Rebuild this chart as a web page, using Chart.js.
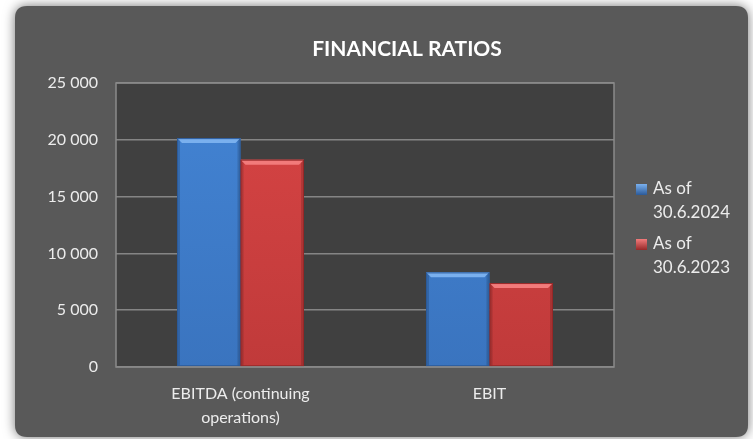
<!DOCTYPE html>
<html>
<head>
<meta charset="utf-8">
<script src="https://cdn.jsdelivr.net/npm/chart.js@4.4.1/dist/chart.umd.min.js"></script>
<style>
    html, body { margin: 0; padding: 0; background: #ffffff; }
    #wrap { width: 753px; height: 439px; }
</style>
</head>
<body>
<div id="wrap"><canvas id="ratiosChart" width="753" height="439"></canvas></div>
<script>
const categories = [['EBITDA (continuing', 'operations)'], 'EBIT'];
const seriesLabels = [['As of', '30.6.2024'], ['As of', '30.6.2023']];
const values2024 = [20150, 8330];
const values2023 = [18250, 7390];
const yTicks = [0, 5000, 10000, 15000, 20000, 25000];
const chartTitle = 'FINANCIAL RATIOS';

const FONT = "Lato, 'Open Sans', sans-serif";
const TEXT = '#ececec';

// bar colours: body, highlight, shadow edge
const palette = [
    { body: '#4384d4', top: '#7ab0ee', edge: '#2b5a99', bottom: '#3a74bf' },
    { body: '#d84545', top: '#f27b7b', edge: '#962828', bottom: '#c03a3a' }
];

function fmt(v) {
    return v.toLocaleString('en-US').replace(/,/g, ' ');
}

function roundRect(ctx, x, y, w, h, r) {
    ctx.beginPath();
    ctx.moveTo(x + r, y);
    ctx.lineTo(x + w - r, y);
    ctx.quadraticCurveTo(x + w, y, x + w, y + r);
    ctx.lineTo(x + w, y + h - r);
    ctx.quadraticCurveTo(x + w, y + h, x + w - r, y + h);
    ctx.lineTo(x + r, y + h);
    ctx.quadraticCurveTo(x, y + h, x, y + h - r);
    ctx.lineTo(x, y + r);
    ctx.quadraticCurveTo(x, y, x + r, y);
    ctx.closePath();
}

// panel, plot background, title and legend
const decor = {
    id: 'decor',
    beforeDraw(chart) {
        const ctx = chart.ctx;
        const a = chart.chartArea;
        ctx.save();
        ctx.fillStyle = '#ffffff';
        ctx.fillRect(0, 0, chart.width, chart.height);
        ctx.shadowColor = 'rgba(0,0,0,0.55)';
        ctx.shadowBlur = 12;
        ctx.fillStyle = '#595959';
        roundRect(ctx, 15, 6, 733, 431, 12);
        ctx.fill();
        ctx.shadowColor = 'transparent';
        ctx.fillStyle = '#404040';
        ctx.fillRect(a.left, a.top, a.right - a.left, a.bottom - a.top);
        ctx.restore();
    },
    afterDraw(chart) {
        const ctx = chart.ctx;
        const a = chart.chartArea;
        ctx.save();
        ctx.strokeStyle = '#8a8a8a';
        ctx.lineWidth = 1.5;
        ctx.strokeRect(a.left, a.top, a.right - a.left, a.bottom - a.top);

        ctx.fillStyle = '#ffffff';
        ctx.font = 'bold 21px ' + FONT;
        ctx.textAlign = 'center';
        ctx.textBaseline = 'middle';
        ctx.fillText(chartTitle, 407, 49);

        // legend
        ctx.font = '17px ' + FONT;
        ctx.textAlign = 'left';
        chart.data.datasets.forEach((ds, i) => {
            const y0 = 189 + i * 55;
            const p = palette[i];
            const g = ctx.createLinearGradient(0, y0 - 5, 0, y0 + 6);
            g.addColorStop(0, p.top);
            g.addColorStop(1, p.edge);
            ctx.fillStyle = g;
            ctx.fillRect(636, y0 - 5, 11, 11);
            ctx.fillStyle = TEXT;
            ds.label.forEach((line, j) => {
                ctx.fillText(line, 653, y0 + j * 24);
            });
        });
        ctx.restore();
    },
    afterDatasetsDraw(chart) {
        // bevel highlights on the bars
        const ctx = chart.ctx;
        ctx.save();
        chart.data.datasets.forEach((ds, i) => {
            const p = palette[i];
            chart.getDatasetMeta(i).data.forEach(bar => {
                const l = bar.x - bar.width / 2;
                const r = bar.x + bar.width / 2;
                const t = bar.y;
                const b = bar.base;
                const d = 5;
                ctx.fillStyle = p.top;
                ctx.beginPath();
                ctx.moveTo(l, t); ctx.lineTo(r, t);
                ctx.lineTo(r - d, t + d); ctx.lineTo(l + d, t + d);
                ctx.closePath(); ctx.fill();
                ctx.fillStyle = 'rgba(0,0,0,0.15)';
                ctx.beginPath();
                ctx.moveTo(r, t); ctx.lineTo(r, b);
                ctx.lineTo(r - 3, b); ctx.lineTo(r - 3, t + 3);
                ctx.closePath(); ctx.fill();
                ctx.beginPath();
                ctx.moveTo(l, t); ctx.lineTo(l, b);
                ctx.lineTo(l + 3, b); ctx.lineTo(l + 3, t + 3);
                ctx.closePath(); ctx.fill();
                ctx.strokeStyle = p.edge;
                ctx.lineWidth = 1;
                ctx.strokeRect(l + 0.5, t + 0.5, r - l - 1, b - t - 1);
            });
        });
        ctx.restore();
    }
};

function barFill(i) {
    return function (context) {
        const a = context.chart.chartArea;
        if (!a) return palette[i].body;
        const g = context.chart.ctx.createLinearGradient(0, a.top, 0, a.bottom);
        g.addColorStop(0, palette[i].body);
        g.addColorStop(1, palette[i].bottom);
        return g;
    };
}

new Chart(document.getElementById('ratiosChart'), {
    type: 'bar',
    data: {
        labels: categories,
        datasets: [
            { label: seriesLabels[0], data: values2024, backgroundColor: barFill(0), borderWidth: 0 },
            { label: seriesLabels[1], data: values2023, backgroundColor: barFill(1), borderWidth: 0 }
        ]
    },
    options: {
        responsive: false,
        animation: false,
        devicePixelRatio: 1,
        layout: { padding: { left: 0, right: 139, top: 83, bottom: 0 } },
        datasets: { bar: { categoryPercentage: 0.51, barPercentage: 1.0 } },
        plugins: {
            legend: { display: false },
            title: { display: false },
            tooltip: { enabled: false }
        },
        scales: {
            x: {
                grid: { display: false, drawTicks: false },
                border: { display: false },
                ticks: { color: TEXT, font: { family: FONT, size: 16, lineHeight: 1.5 }, padding: 15, maxRotation: 0, autoSkip: false },
                afterFit(scale) { scale.height = 72; }
            },
            y: {
                min: 0,
                max: 25000,
                afterBuildTicks(scale) { scale.ticks = yTicks.map(v => ({ value: v })); },
                grid: { color: '#858585', lineWidth: 1.5, drawTicks: false },
                border: { display: false },
                ticks: { color: TEXT, font: { family: FONT, size: 16 }, padding: 18, callback: v => fmt(v) },
                afterFit(scale) { scale.width = 116; }
            }
        }
    },
    plugins: [decor]
});
</script>
</body>
</html>
